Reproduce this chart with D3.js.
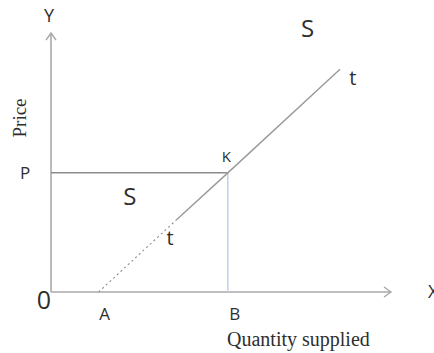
<!DOCTYPE html>
<html>
<head>
<meta charset="utf-8">
<script src="https://cdn.jsdelivr.net/npm/d3@7"></script>
<style>
  html, body { margin: 0; padding: 0; background: #fff; }
  svg { display: block; }
  .sans { font-family: "Open Sans", "DejaVu Sans", sans-serif; fill: #2e2e2e; }
  .serif { font-family: "Liberation Serif", "Times New Roman", serif; fill: #2e2e2e; }
</style>
</head>
<body>
<svg id="chart" width="434" height="353"></svg>
<script>
// Supply curve: starts on the quantity axis at A and rises through K
const supplyQty   = [14, 37, 52, 85];
const supplyPrice = [0, 28, 46, 86];
// Equilibrium point K (quantity B, price P)
const pointK = { q: 52, p: 46 };
const pointA = { q: 14, p: 0 };
// Labels placed in data units
const labels = [
  { text: "S", q: 23.2, p: 33.6, size: 24 },
  { text: "S", q: 75.5, p: 98.5, size: 24 },
  { text: "t", q: 35, p: 18, size: 20 },
  { text: "t", q: 88.8, p: 80, size: 20 },
  { text: "K", q: 51.6, p: 50.2, size: 15 }
];

const width = 434, height = 353;
const svg = d3.select("#chart");

const x = d3.scaleLinear().domain([0, 100]).range([51, 391]);
const y = d3.scaleLinear().domain([0, 100]).range([292, 33]);

const axisColor = "#a9a9a9";

// Axes with open arrowheads
svg.append("line")
  .attr("x1", x(0)).attr("y1", y(0)).attr("x2", x(0)).attr("y2", y(100))
  .attr("stroke", axisColor).attr("stroke-width", 1.6);
svg.append("path")
  .attr("d", `M${x(0) - 5},${y(100) + 7}L${x(0)},${y(100)}L${x(0) + 5},${y(100) + 7}`)
  .attr("fill", "none").attr("stroke", axisColor).attr("stroke-width", 1.4);

svg.append("line")
  .attr("x1", x(0)).attr("y1", y(0)).attr("x2", x(100)).attr("y2", y(0))
  .attr("stroke", axisColor).attr("stroke-width", 1.6);
svg.append("path")
  .attr("d", `M${x(100) - 7},${y(0) - 5}L${x(100)},${y(0)}L${x(100) - 7},${y(0) + 5}`)
  .attr("fill", "none").attr("stroke", axisColor).attr("stroke-width", 1.4);

// Price line from the axis to K
svg.append("line")
  .attr("x1", x(0)).attr("y1", y(pointK.p)).attr("x2", x(pointK.q)).attr("y2", y(pointK.p))
  .attr("stroke", "#8c8c8c").attr("stroke-width", 1.5);

// Quantity drop line from K down to B
svg.append("line")
  .attr("x1", x(pointK.q)).attr("y1", y(pointK.p)).attr("x2", x(pointK.q)).attr("y2", y(0))
  .attr("stroke", "#c5d2ee").attr("stroke-width", 1.6);

// Supply curve: dashed lower part, solid upper part
const line = d3.line().x(d => x(d[0])).y(d => y(d[1]));
const pts = supplyQty.map((q, i) => [q, supplyPrice[i]]);
svg.append("path")
  .attr("d", line(pts.slice(0, 2)))
  .attr("fill", "none").attr("stroke", "#8a8a8a").attr("stroke-width", 1.1)
  .attr("stroke-dasharray", "2,3");
svg.append("path")
  .attr("d", line(pts.slice(1)))
  .attr("fill", "none").attr("stroke", "#9a9a9a").attr("stroke-width", 1.4);

// Axis letters
svg.append("text").attr("class", "sans")
  .attr("x", x(0) - 2).attr("y", 22).attr("text-anchor", "middle")
  .attr("font-size", 18).text("Y");
svg.append("text").attr("class", "sans")
  .attr("x", 428).attr("y", y(0) + 6).attr("text-anchor", "start")
  .attr("font-size", 18).text("X");
svg.append("text").attr("class", "sans")
  .attr("x", x(0) - 7).attr("y", y(0) + 17).attr("text-anchor", "middle")
  .attr("font-size", 25).text("0");

// Point labels on the axes
svg.append("text").attr("class", "sans")
  .attr("x", 25).attr("y", y(pointK.p) + 6).attr("text-anchor", "middle")
  .attr("font-size", 17).text("P");
svg.append("text").attr("class", "sans")
  .attr("x", x(pointA.q) + 6).attr("y", y(0) + 28).attr("text-anchor", "middle")
  .attr("font-size", 17).text("A");
svg.append("text").attr("class", "sans")
  .attr("x", x(pointK.q) + 7).attr("y", y(0) + 28).attr("text-anchor", "middle")
  .attr("font-size", 17).text("B");

labels.forEach(l => {
  svg.append("text").attr("class", "sans")
    .attr("x", x(l.q)).attr("y", y(l.p)).attr("text-anchor", "middle")
    .attr("font-size", l.size).text(l.text);
});

// Axis titles
svg.append("text").attr("class", "serif")
  .attr("x", 227).attr("y", 346).attr("font-size", 20)
  .text("Quantity supplied");
svg.append("text").attr("class", "serif")
  .attr("transform", `translate(26,118) rotate(-90)`)
  .attr("text-anchor", "middle").attr("font-size", 19)
  .text("Price");
</script>
</body>
</html>
